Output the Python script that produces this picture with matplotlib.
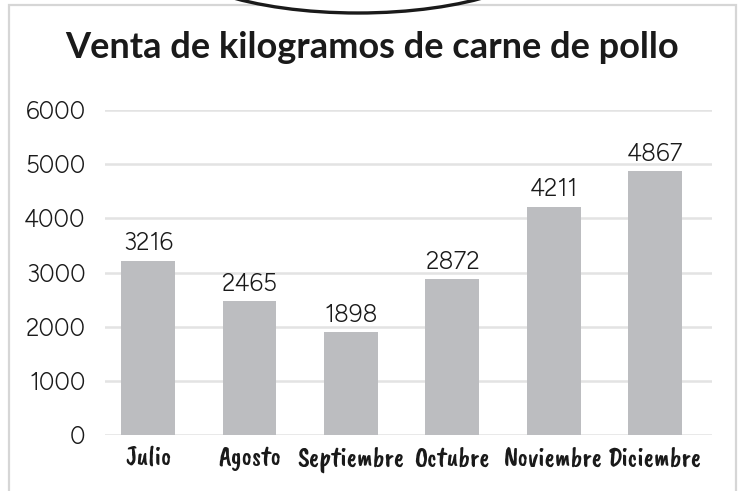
import matplotlib
matplotlib.use("Agg")
import matplotlib.pyplot as plt
from matplotlib.patches import Rectangle, Ellipse
from matplotlib import font_manager

# --- data ---
months = ["Julio", "Agosto", "Septiembre", "Octubre", "Noviembre", "Diciembre"]
kilos = [3216, 2465, 1898, 2872, 4211, 4867]
y_ticks = [0, 1000, 2000, 3000, 4000, 5000, 6000]
title = "Venta de kilogramos de carne de pollo"

W, H = 740, 491
fig = plt.figure(figsize=(W / 100, H / 100), dpi=100)


def px(x, y):
    """pixel (from top-left) -> figure fraction"""
    return x / W, 1 - y / H


names = {f.name for f in font_manager.fontManager.ttflist}
num_font = "Figtree" if "Figtree" in names else "Lato"
title_font = "Lato" if "Lato" in names else "DejaVu Sans"
hand_font = "Caveat Brush" if "Caveat Brush" in names else "DejaVu Sans"

# outer frame (light gray, open at the bottom)
x0, y0 = px(9, 5)
x1, y1 = px(736, 500)
fig.patches.append(Rectangle((x0, y1), x1 - x0, y0 - y1, transform=fig.transFigure,
                             fill=False, edgecolor="#d6d6d6", linewidth=1.6, zorder=1))

# speech-bubble bottom poking in from the top
cx, cy = px(358, -52)
fig.patches.append(Ellipse((cx, cy), 390 / W, 130 / H, transform=fig.transFigure,
                           facecolor="white", edgecolor="#1a1a1a", linewidth=2.4, zorder=2))

fig.text(0.503, px(0, 47)[1], title, ha="center", va="center",
         fontsize=26, fontweight="bold", family=title_font, color="#1a1a1a")

ax = fig.add_axes([105 / W, 56 / H, 607 / W, 325 / H])
ax.bar(range(len(months)), kilos, width=0.53, color="#bcbdc0", zorder=3)
ax.set_xlim(-0.424, 5.56)
ax.set_ylim(0, 6000)

for i, v in enumerate(kilos):
    ax.annotate(str(v), (i, v), xytext=(0, 4), textcoords="offset points",
                ha="center", va="bottom", fontsize=17.5, family=num_font, color="#1a1a1a")

ax.set_yticks(y_ticks)
ax.set_yticklabels([str(t) for t in y_ticks], fontsize=17.5, family=num_font, color="#1a1a1a")
ax.set_xticks(range(len(months)))
ax.set_xticklabels(months, fontsize=19.5, family=hand_font, color="#1a1a1a")
ax.tick_params(axis="both", length=0)
ax.tick_params(axis="y", pad=14)
ax.tick_params(axis="x", pad=8)

ax.yaxis.grid(True, color="#e3e3e3", linewidth=1.8, zorder=0)
ax.set_axisbelow(True)
for s in ax.spines.values():
    s.set_visible(False)

fig.savefig("out.png", dpi=100)
